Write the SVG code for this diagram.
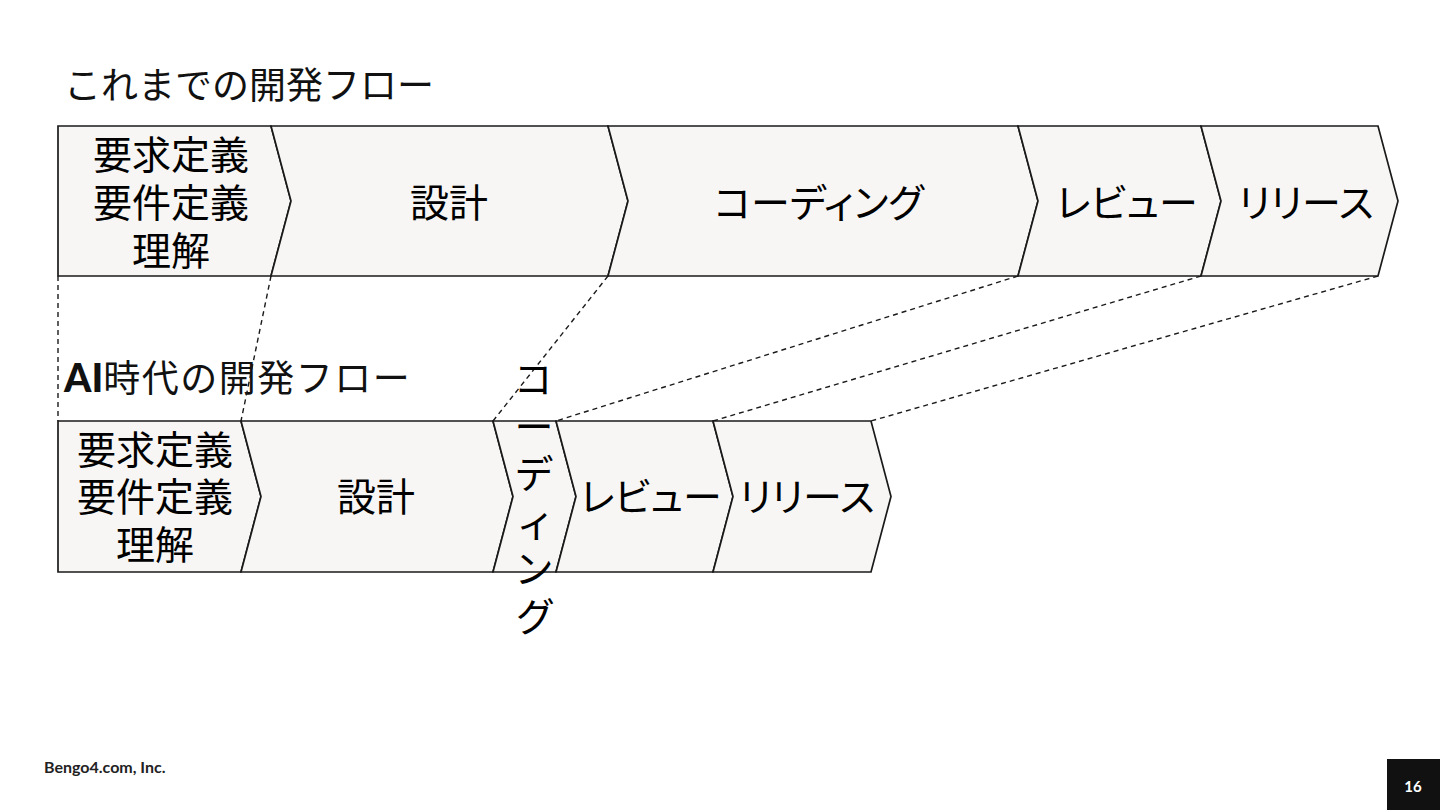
<svg xmlns="http://www.w3.org/2000/svg" width="1440" height="810" viewBox="0 0 1440 810">
<style>
.bg{fill:#ffffff}
.shape{fill:#f7f6f4;stroke:#1a1a1a;stroke-width:1.7;stroke-linejoin:miter}
.dash{fill:none;stroke:#1a1a1a;stroke-width:1.4;stroke-dasharray:5 4}
.t{font-family:"Noto Sans CJK JP","Noto Sans",sans-serif;font-size:39px;font-weight:400;fill:#000;text-anchor:middle;font-feature-settings:"palt"}
.title{font-family:"Noto Sans CJK JP","Noto Sans",sans-serif;font-size:37px;fill:#111}
.latin{font-family:Lato,"Noto Sans",sans-serif;font-weight:900;font-size:39px}
.foot{font-family:Lato,"Noto Sans",sans-serif;font-weight:bold;font-size:16px;fill:#222}
</style>
<rect class="bg" x="0" y="0" width="1440" height="810"/>

<text class="title" x="64" y="99">これまでの開発フロー</text>
<text class="title" x="64" y="392"><tspan class="latin">AI</tspan><tspan letter-spacing="1.5">時代の開発フロー</tspan></text>

<g id="connectors">
<line class="dash" x1="58" y1="276" x2="58" y2="421"/>
<line class="dash" x1="271" y1="276" x2="241" y2="421"/>
<line class="dash" x1="608" y1="276" x2="493" y2="421"/>
<line class="dash" x1="1018" y1="276" x2="556" y2="421"/>
<line class="dash" x1="1201" y1="276" x2="713" y2="421"/>
<line class="dash" x1="1378" y1="276" x2="871" y2="421"/>
</g>

<g id="old-req">
<polygon class="shape" points="58,126 271,126 291,201 271,276 58,276"/>
<text class="t" x="171" y="169">要求定義</text>
<text class="t" x="171" y="217">要件定義</text>
<text class="t" x="171" y="265">理解</text>
</g>
<g id="old-design">
<polygon class="shape" points="271,126 608,126 628,201 608,276 271,276 291,201"/>
<text class="t" x="449" y="217">設計</text>
</g>
<g id="old-coding">
<polygon class="shape" points="608,126 1018,126 1038,201 1018,276 608,276 628,201"/>
<text class="t" x="819" y="217">コーディング</text>
</g>
<g id="old-review">
<polygon class="shape" points="1018,126 1201,126 1221,201 1201,276 1018,276 1038,201"/>
<text class="t" x="1127" y="217">レビュー</text>
</g>
<g id="old-release">
<polygon class="shape" points="1201,126 1378,126 1398,201 1378,276 1201,276 1221,201"/>
<text class="t" x="1306" y="217">リリース</text>
</g>

<g id="ai-req">
<polygon class="shape" points="58,421 241,421 261,496.5 241,572 58,572"/>
<text class="t" x="155" y="464">要求定義</text>
<text class="t" x="155" y="511">要件定義</text>
<text class="t" x="155" y="559">理解</text>
</g>
<g id="ai-design">
<polygon class="shape" points="241,421 493,421 513,496.5 493,572 241,572 261,496.5"/>
<text class="t" x="376" y="511">設計</text>
</g>
<g id="ai-coding">
<polygon class="shape" points="493,421 556,421 576,496.5 556,572 493,572 513,496.5"/>
<text class="t" x="534" y="393">コ</text>
<text class="t" x="534" y="440.5">ー</text>
<text class="t" x="534" y="488">デ</text>
<text class="t" x="534" y="535.5">ィ</text>
<text class="t" x="534" y="583">ン</text>
<text class="t" x="534" y="630.5">グ</text>
</g>
<g id="ai-review">
<polygon class="shape" points="556,421 713,421 733,496.5 713,572 556,572 576,496.5"/>
<text class="t" x="651" y="511">レビュー</text>
</g>
<g id="ai-release">
<polygon class="shape" points="713,421 871,421 891,496.5 871,572 713,572 733,496.5"/>
<text class="t" x="807" y="511">リリース</text>
</g>

<text class="foot" x="44" y="773">Bengo4.com, Inc.</text>
<rect x="1387" y="759" width="53" height="51" fill="#111"/>
<text x="1413" y="792" font-family="Lato, 'Noto Sans', sans-serif" font-weight="bold" font-size="15" fill="#fff" text-anchor="middle">16</text>
</svg>
